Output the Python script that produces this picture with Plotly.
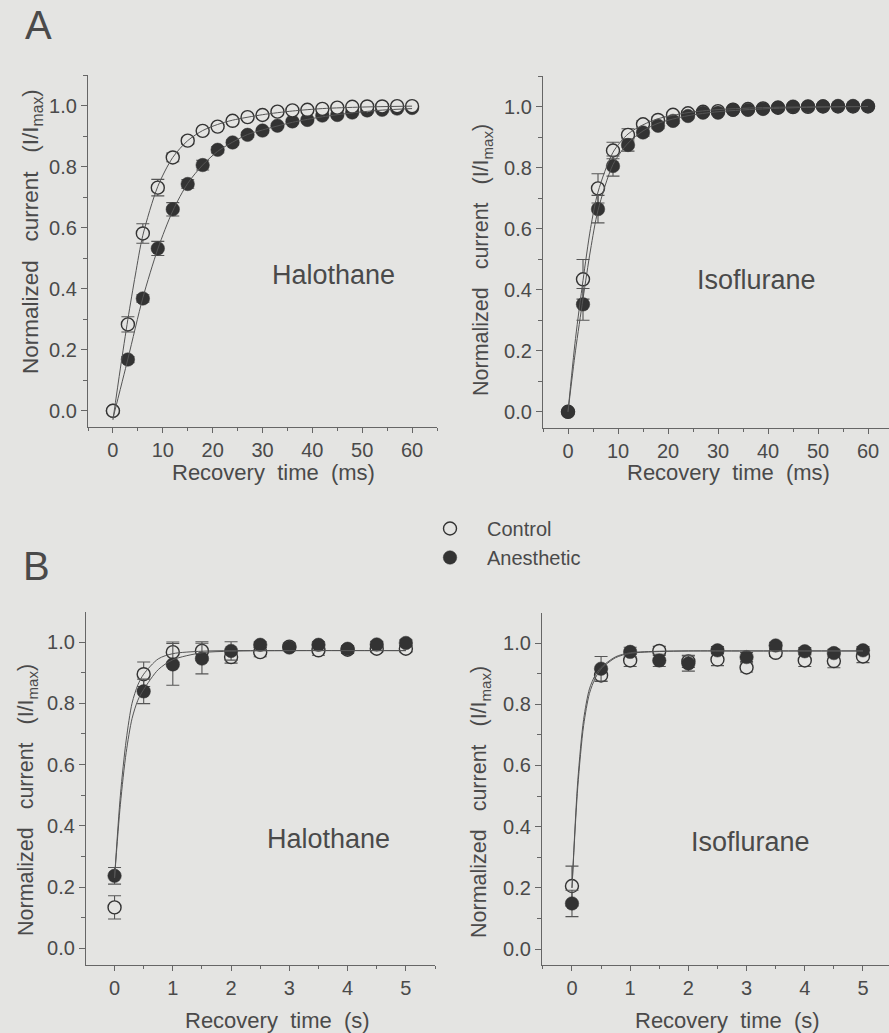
import plotly.graph_objects as go

# ---------------- data ----------------
t_ms = [0, 3, 6, 9, 12, 15, 18, 21, 24, 27, 30, 33, 36, 39, 42, 45, 48, 51, 54, 57, 60]
t_s = [0, 0.5, 1, 1.5, 2, 2.5, 3, 3.5, 4, 4.5, 5]

# Panel A, Halothane
ah_ctrl = [0.0, 0.283, 0.581, 0.731, 0.830, 0.885, 0.917, 0.931, 0.950, 0.962, 0.969,
           0.980, 0.984, 0.986, 0.989, 0.993, 0.996, 0.997, 0.997, 0.998, 0.998]
ah_ctrl_err = [0.0, 0.025, 0.032, 0.027, 0.014, 0.011, 0.008, 0.006, 0.005, 0.005, 0.004,
               0.004, 0.003, 0.003, 0.003, 0.003, 0.002, 0.002, 0.002, 0.002, 0.002]
ah_anes = [0.0, 0.168, 0.368, 0.532, 0.660, 0.743, 0.805, 0.855, 0.879, 0.904, 0.918,
           0.934, 0.948, 0.953, 0.967, 0.969, 0.977, 0.984, 0.986, 0.990, 0.992]
ah_anes_err = [0.0, 0.010, 0.012, 0.023, 0.022, 0.014, 0.016, 0.010, 0.008, 0.008, 0.007,
               0.006, 0.006, 0.005, 0.005, 0.005, 0.004, 0.004, 0.003, 0.003, 0.003]

# Panel A, Isoflurane
ai_ctrl = [0.0, 0.434, 0.732, 0.856, 0.907, 0.942, 0.956, 0.973, 0.978, 0.983, 0.985,
           0.990, 0.992, 0.994, 0.996, 0.998, 0.999, 1.0, 1.0, 1.0, 1.0]
ai_ctrl_err = [0.0, 0.065, 0.048, 0.027, 0.020, 0.012, 0.010, 0.008, 0.006, 0.005, 0.005,
               0.004, 0.004, 0.004, 0.003, 0.003, 0.003, 0.003, 0.003, 0.003, 0.003]
ai_anes = [0.0, 0.352, 0.664, 0.805, 0.874, 0.915, 0.937, 0.953, 0.969, 0.980, 0.980,
           0.989, 0.989, 0.992, 0.997, 1.0, 1.001, 1.001, 1.002, 1.002, 1.002]
ai_anes_err = [0.0, 0.052, 0.045, 0.033, 0.020, 0.012, 0.010, 0.008, 0.006, 0.005, 0.005,
               0.004, 0.004, 0.004, 0.003, 0.003, 0.003, 0.003, 0.003, 0.003, 0.003]

# Panel B, Halothane
bh_ctrl = [0.134, 0.895, 0.967, 0.971, 0.951, 0.967, 0.985, 0.973, 0.975, 0.978, 0.978]
bh_ctrl_err = [0.038, 0.040, 0.033, 0.030, 0.020, 0.015, 0.012, 0.016, 0.012, 0.010, 0.010]
bh_anes = [0.237, 0.839, 0.927, 0.946, 0.971, 0.991, 0.982, 0.991, 0.978, 0.992, 0.997]
bh_anes_err = [0.027, 0.040, 0.068, 0.050, 0.030, 0.010, 0.010, 0.010, 0.010, 0.010, 0.010]

# Panel B, Isoflurane
bi_ctrl = [0.206, 0.894, 0.943, 0.974, 0.940, 0.946, 0.920, 0.968, 0.943, 0.941, 0.956]
bi_ctrl_err = [0.065, 0.020, 0.020, 0.015, 0.020, 0.020, 0.015, 0.012, 0.020, 0.022, 0.020]
bi_anes = [0.149, 0.916, 0.971, 0.943, 0.933, 0.976, 0.954, 0.992, 0.973, 0.967, 0.976]
bi_anes_err = [0.043, 0.040, 0.015, 0.020, 0.025, 0.012, 0.015, 0.010, 0.012, 0.012, 0.012]

# fitted curves
fit_ah_t = [0, 1.5, 3, 4.5, 6, 9, 12, 15, 18, 21, 24, 30, 36, 42, 50, 60]
fit_ah_ctrl = [-0.03, 0.14, 0.30, 0.445, 0.575, 0.735, 0.83, 0.885, 0.918, 0.938, 0.952,
               0.970, 0.982, 0.990, 0.995, 0.998]
fit_ah_anes_t = [0, 3, 6, 9, 12, 15, 18, 21, 24, 27, 30, 36, 42, 48, 54, 60]
fit_ah_anes = [-0.025, 0.17, 0.37, 0.53, 0.655, 0.745, 0.805, 0.85, 0.88, 0.905, 0.92,
               0.945, 0.963, 0.976, 0.985, 0.99]
fit_ai_t = [0, 1.5, 3, 4.5, 6, 9, 12, 15, 18, 24, 30, 40, 50, 60]
fit_ai_ctrl = [0.0, 0.24, 0.43, 0.60, 0.72, 0.85, 0.91, 0.94, 0.96, 0.98, 0.99, 0.997, 0.999, 1.0]
fit_ai_anes = [0.0, 0.20, 0.37, 0.53, 0.66, 0.81, 0.88, 0.92, 0.945, 0.97, 0.983, 0.993, 0.998, 1.0]
fit_b_t = [0, 0.1, 0.2, 0.3, 0.4, 0.5, 0.75, 1.0, 1.5, 2.0, 3.0, 5.0]
fit_bh_ctrl = [0.23, 0.50, 0.68, 0.80, 0.86, 0.895, 0.945, 0.962, 0.970, 0.972, 0.972, 0.972]
fit_bh_anes = [0.23, 0.47, 0.64, 0.75, 0.81, 0.845, 0.91, 0.942, 0.965, 0.970, 0.972, 0.972]
fit_bi_ctrl = [0.20, 0.55, 0.75, 0.85, 0.895, 0.92, 0.955, 0.968, 0.973, 0.974, 0.974, 0.974]
fit_bi_anes = [0.20, 0.53, 0.73, 0.835, 0.885, 0.915, 0.952, 0.966, 0.972, 0.974, 0.974, 0.974]

y_ticks = [0.0, 0.2, 0.4, 0.6, 0.8, 1.0]
y_tick_text = ["0.0", "0.2", "0.4", "0.6", "0.8", "1.0"]
x_ticks_ms = [0, 10, 20, 30, 40, 50, 60]
x_ticks_s = [0, 1, 2, 3, 4, 5]

# ---------------- style ----------------
BG = "#e4e4e2"
INK = "#4a4a4a"
MARK = "#333333"
FONT = "Liberation Sans, Arial, sans-serif"
W, H = 889, 1033
SP = "\u00a0\u00a0"
SP3 = "\u00a0\u00a0\u00a0"
XT_MS = "Recovery" + SP + "time" + SP + "(ms)"
XT_S = "Recovery" + SP + "time" + SP + "(s)"

fig = go.Figure()


def add_panel(xa, ya, t, ctrl, ctrl_err, anes, anes_err, fits, ctrl_on_top, legend):
    ctrl_tr = go.Scatter(
        x=t, y=ctrl, mode="markers", name="Control", xaxis=xa, yaxis=ya, legendrank=1,
        marker=dict(symbol="circle", size=13, color=BG, line=dict(color=MARK, width=1.4)),
        error_y=dict(type="data", array=ctrl_err, color="#555555", thickness=1.1, width=6.5),
        showlegend=legend, legendgroup="c")
    anes_tr = go.Scatter(
        x=t, y=anes, mode="markers", name="Anesthetic", xaxis=xa, yaxis=ya, legendrank=2,
        marker=dict(symbol="circle", size=13.5, color=MARK, line=dict(color=MARK, width=0.5)),
        error_y=dict(type="data", array=anes_err, color="#555555", thickness=1.1, width=6.5),
        showlegend=legend, legendgroup="a")
    if ctrl_on_top:
        fig.add_trace(anes_tr)
        fig.add_trace(ctrl_tr)
    else:
        fig.add_trace(ctrl_tr)
        fig.add_trace(anes_tr)
    for ft, fy in fits:
        fig.add_trace(go.Scatter(x=ft, y=fy, mode="lines", xaxis=xa, yaxis=ya,
                                 line=dict(color="#555555", width=1, shape="spline", smoothing=0.8),
                                 showlegend=False, hoverinfo="skip"))


add_panel("x", "y", t_ms, ah_ctrl, ah_ctrl_err, ah_anes, ah_anes_err,
          [(fit_ah_t, fit_ah_ctrl), (fit_ah_anes_t, fit_ah_anes)], True, True)
add_panel("x2", "y2", t_ms, ai_ctrl, ai_ctrl_err, ai_anes, ai_anes_err,
          [(fit_ai_t, fit_ai_ctrl), (fit_ai_t, fit_ai_anes)], False, False)
add_panel("x3", "y3", t_s, bh_ctrl, bh_ctrl_err, bh_anes, bh_anes_err,
          [(fit_b_t, fit_bh_ctrl), (fit_b_t, fit_bh_anes)], False, False)
add_panel("x4", "y4", t_s, bi_ctrl, bi_ctrl_err, bi_anes, bi_anes_err,
          [(fit_b_t, fit_bi_ctrl), (fit_b_t, fit_bi_anes)], False, False)


def xax(domain, rng, ticks, anchor, minor_dtick):
    return dict(domain=domain, range=rng, anchor=anchor, tickvals=ticks,
                ticks="outside", ticklen=5, tickwidth=1, tickcolor="#666666",
                showline=True, linecolor="#666666", linewidth=1.2, showgrid=False,
                zeroline=False, tickfont=dict(size=20, color=INK, family=FONT),
                minor=dict(dtick=minor_dtick, tick0=0, ticks="outside", ticklen=3,
                           tickcolor="#666666", showgrid=False))


def yax(domain, rng, anchor):
    return dict(domain=domain, range=rng, anchor=anchor, tickvals=y_ticks, ticktext=y_tick_text,
                ticks="outside", ticklen=6, tickwidth=1, tickcolor="#666666",
                showline=True, linecolor="#666666", linewidth=1.2, showgrid=False,
                zeroline=False, tickfont=dict(size=20, color=INK, family=FONT),
                minor=dict(dtick=0.1, tick0=0, ticks="outside", ticklen=4,
                           tickcolor="#666666", showgrid=False))


fig.update_layout(
    width=W, height=H, margin=dict(l=0, r=0, t=0, b=0),
    paper_bgcolor=BG, plot_bgcolor=BG,
    font=dict(family=FONT, color=INK, size=20),
    xaxis=xax([88 / W, 437 / W], [-5, 65], x_ticks_ms, "y", 5),
    yaxis=yax([1 - 427 / H, 1 - 75 / H], [-0.053, 1.10], "x"),
    xaxis2=xax([543 / W, 1.0], [-5, -5 + (W - 543) / 5.0], x_ticks_ms, "y2", 5),
    yaxis2=yax([1 - 428 / H, 1 - 76 / H], [-0.053, 1.10], "x2"),
    xaxis3=xax([86 / W, 435 / W], [-0.49, 5.5], x_ticks_s, "y3", 0.5),
    yaxis3=yax([1 - 965 / H, 1 - 612 / H], [-0.054, 1.098], "x3"),
    xaxis4=xax([542 / W, 1.0], [-0.515, -0.515 + (W - 542) / 58.2], x_ticks_s, "y4", 0.5),
    yaxis4=yax([1 - 965 / H, 1 - 613 / H], [-0.052, 1.098], "x4"),
    showlegend=True,
    legend=dict(x=413 / W, y=1 - 509 / H, xanchor="left", yanchor="top", itemwidth=64,
                bgcolor="rgba(0,0,0,0)", font=dict(size=20, color=INK, family=FONT),
                tracegroupgap=0, itemsizing="trace", traceorder="normal"),
)

ytitle = "Normalized" + SP3 + "current" + SP3 + "(I/I<sub>max</sub>)"
ann = [
    dict(text="A", x=38, y=25, size=40),
    dict(text="B", x=36, y=566, size=40),
    dict(text="Halothane", x=333, y=275, size=27),
    dict(text="Isoflurane", x=756, y=280, size=27),
    dict(text="Halothane", x=328, y=839, size=27),
    dict(text="Isoflurane", x=750, y=842, size=27),
    dict(text=XT_MS, x=273, y=473, size=22),
    dict(text=XT_MS, x=728, y=473, size=22),
    dict(text=XT_S, x=277, y=1020, size=22),
    dict(text=XT_S, x=727, y=1020, size=22),
]
for a in ann:
    fig.add_annotation(text=a["text"], x=a["x"] / W, y=1 - a["y"] / H, xref="paper", yref="paper",
                       xanchor="center", yanchor="middle", showarrow=False,
                       font=dict(size=a["size"], color=INK, family=FONT))
for (xc, yc, fs) in [(32, 232, 22.5), (482, 260, 21.5), (27, 800, 21.5), (480, 802, 21.5)]:
    fig.add_annotation(text=ytitle, x=xc / W, y=1 - yc / H, xref="paper", yref="paper",
                       xanchor="center", yanchor="middle", showarrow=False, textangle=-90,
                       font=dict(size=fs, color=INK, family=FONT))

fig.write_html("out.html")
